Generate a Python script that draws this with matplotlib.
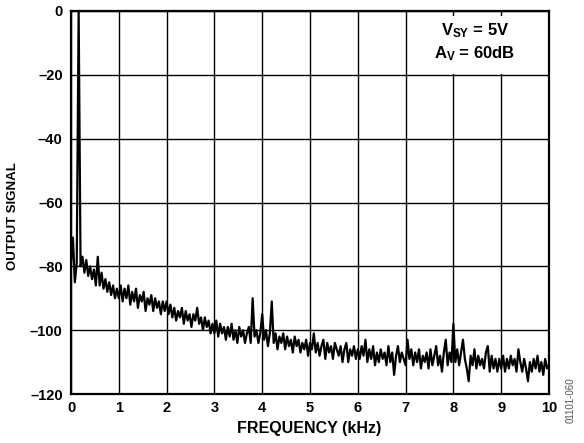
import numpy as np
import matplotlib
matplotlib.use("Agg")
import matplotlib.pyplot as plt
from matplotlib.patches import Rectangle

plt.rcParams['font.family'] = ['Liberation Sans', 'DejaVu Sans']
plt.rcParams['mathtext.fontset'] = 'custom'
plt.rcParams['mathtext.rm'] = 'Liberation Sans:bold'
plt.rcParams['mathtext.bf'] = 'Liberation Sans:bold'
plt.rcParams['mathtext.it'] = 'Liberation Sans:bold'

# Spectrum values (dB), 0.04 kHz spacing, one row per kHz
khz0 = [-79, -71, -85, -79, 0, -80, -77, -82, -78, -83, -80, -84, -81, -86, -77,
        -86, -82, -87, -84, -88, -85, -89, -86, -90, -87]
khz1 = [-90, -86, -91, -87, -90, -86, -92, -88, -91, -87, -93, -89, -91, -88, -94,
        -90, -92, -89, -94, -90, -93, -91, -95, -91, -94]
khz2 = [-91, -95, -92, -96, -93, -97, -94, -96, -93, -98, -94, -97, -95, -99, -95,
        -97, -93, -98, -96, -100, -96, -99, -97, -101, -98]
khz3 = [-101, -97, -102, -98, -101, -99, -103, -99, -102, -98, -103, -100, -104, -99, -102,
        -100, -104, -101, -99, -104, -90, -102, -100, -104, -101]
khz4 = [-95, -103, -100, -105, -101, -91, -104, -101, -106, -102, -104, -101, -106, -102, -105,
        -103, -107, -102, -105, -103, -107, -104, -106, -103, -108]
khz5 = [-104, -106, -101, -107, -104, -108, -105, -103, -109, -104, -107, -105, -109, -104, -106,
        -108, -105, -110, -106, -104, -110, -106, -108, -105, -109]
khz6 = [-106, -109, -105, -108, -103, -110, -106, -109, -105, -111, -107, -110, -106, -109, -107,
        -111, -105, -110, -107, -114, -108, -105, -110, -107, -109]
khz7 = [-111, -103, -109, -106, -111, -107, -110, -106, -112, -108, -110, -107, -112, -106, -111,
        -108, -105, -111, -108, -113, -107, -103, -111, -107, -110]
khz8 = [-98, -110, -106, -111, -107, -103, -109, -112, -116, -108, -111, -106, -112, -108, -111,
        -109, -112, -107, -105, -113, -108, -112, -109, -113, -109]
khz9 = [-112, -108, -113, -109, -112, -108, -111, -109, -113, -106, -110, -113, -109, -112, -116,
        -110, -113, -109, -112, -108, -113, -110, -114, -109, -112]
last = [-111]

level_db = khz0 + khz1 + khz2 + khz3 + khz4 + khz5 + khz6 + khz7 + khz8 + khz9 + last
freq_khz = np.linspace(0, 10, len(level_db))

x_ticks = [0, 1, 2, 3, 4, 5, 6, 7, 8, 9, 10]
y_ticks = [-120, -100, -80, -60, -40, -20, 0]
y_tick_labels = ['\u2013120', '\u2013100', '\u201380', '\u201360', '\u201340', '\u201320', '0']

fig = plt.figure(figsize=(5.84, 4.43), dpi=100)
ax = fig.add_axes([71 / 584, 1 - 394 / 443, 478 / 584, 383 / 443])

ax.plot(freq_khz, level_db, color='black', linewidth=1.6, zorder=3)

ax.set_xlim(0, 10)
ax.set_ylim(-120, 0)
ax.set_xticks(x_ticks)
ax.set_yticks(y_ticks)
ax.set_yticklabels(y_tick_labels)
ax.tick_params(length=0, labelsize=10.5)
ax.tick_params(axis='x', pad=5)
ax.tick_params(axis='y', pad=6)
for lab in ax.get_xticklabels() + ax.get_yticklabels():
    lab.set_fontweight('bold')
ax.set_axisbelow(True)
ax.grid(True, color='black', linewidth=1.0)
for s in ax.spines.values():
    s.set_linewidth(1.6)
    s.set_color('black')

fig.text(309.5 / 584, 1 - 429 / 443, 'FREQUENCY (kHz)', fontsize=11.5, fontweight='bold',
         ha='center', va='center')
fig.text(13 / 584, 1 - 216 / 443, 'OUTPUT SIGNAL', fontsize=9.5, fontweight='bold',
         rotation=90, ha='center', va='center')

ax.add_patch(Rectangle((7.15, -19.7), 2.75, 18.1, facecolor='white', edgecolor='none', zorder=1))
ax.text(8.45, -7.5, r'$V_{SY}$ = 5V', fontsize=12, fontweight='bold', ha='center', va='baseline', zorder=4)
ax.text(8.45, -14.7, r'$A_{V}$ = 60dB', fontsize=12, fontweight='bold', ha='center', va='baseline', zorder=4)

fig.text(571 / 584, 1 - 400 / 443, '01101-060', rotation=90, fontsize=7, color='#555555',
         ha='center', va='center')

fig.savefig('out.png', dpi=100)
